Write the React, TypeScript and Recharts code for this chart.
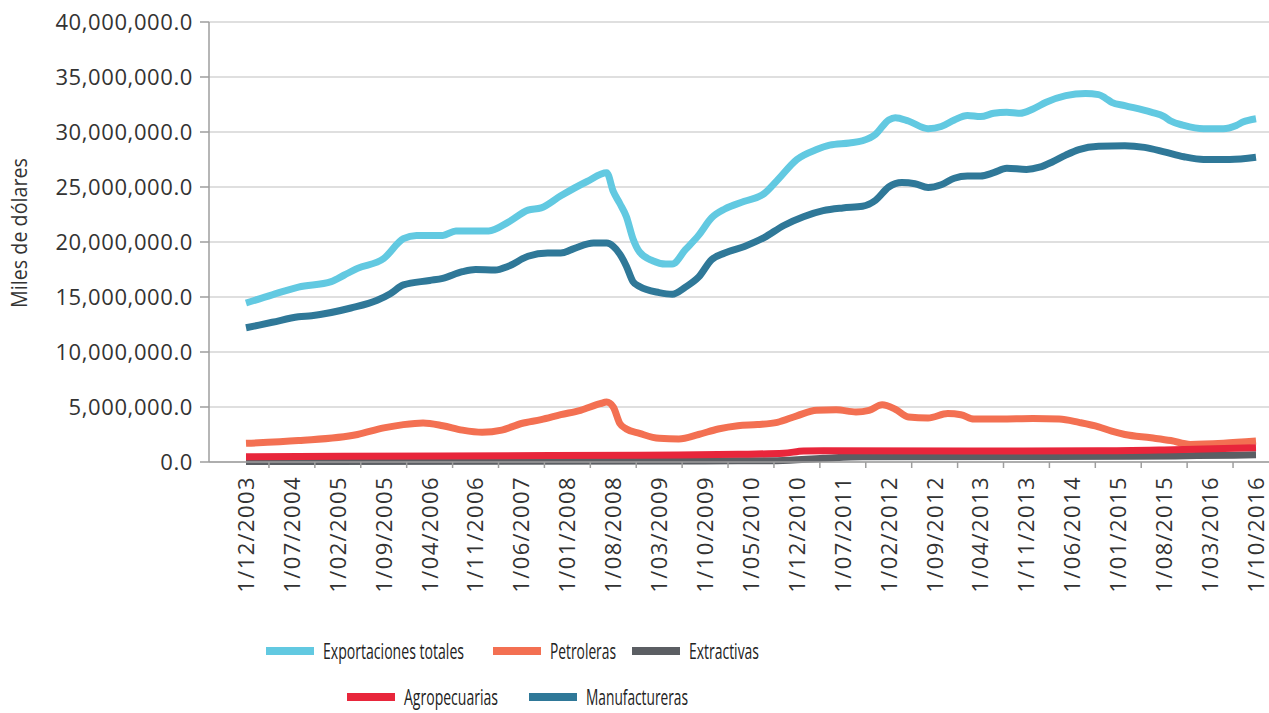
import { LineChart, Line, XAxis, YAxis, CartesianGrid } from "recharts";

// month index 0 = 1/12/2003, one step per month
const tickLabels = [
  "1/12/2003", "1/07/2004", "1/02/2005", "1/09/2005", "1/04/2006", "1/11/2006",
  "1/06/2007", "1/01/2008", "1/08/2008", "1/03/2009", "1/10/2009", "1/05/2010",
  "1/12/2010", "1/07/2011", "1/02/2012", "1/09/2012", "1/04/2013", "1/11/2013",
  "1/06/2014", "1/01/2015", "1/08/2015", "1/03/2016", "1/10/2016",
];
const tickMonths = tickLabels.map((_, i) => i * 7);
const lastMonth = tickMonths[tickMonths.length - 1];

const yTicks = [0, 5, 10, 15, 20, 25, 30, 35, 40]; // millions of "miles de dólares"

type Point = [number, number]; // [month index, value in millions]

const exportacionesTotales: Point[] = [
  [0, 14.45], [4, 15.2], [8, 15.9], [13, 16.4], [15, 17.0], [17, 17.6], [21, 18.5],
  [24, 20.3], [26, 20.6], [30, 20.6], [32, 21.0], [37, 21.0], [40, 21.8], [43, 22.9],
  [45, 23.1], [48, 24.2], [52, 25.5], [55, 26.3], [56, 24.6], [57, 23.5], [58, 22.3],
  [59, 20.3], [60, 19.1], [62, 18.3], [64, 18.0], [65, 18.0], [67, 19.3], [69, 20.6],
  [71, 22.2], [73, 23.0], [76, 23.7], [79, 24.4], [81, 25.6], [84, 27.5], [87, 28.4],
  [89, 28.8], [92, 29.0], [94, 29.2], [96, 29.8], [98, 31.1], [99, 31.3], [101, 31.0],
  [104, 30.3], [106, 30.5], [108, 31.1], [110, 31.5], [112, 31.4], [114, 31.7],
  [116, 31.8], [118, 31.7], [120, 32.1], [122, 32.7], [125, 33.3], [128, 33.5],
  [130, 33.4], [131, 33.1], [132, 32.7], [134, 32.4], [138, 31.8], [140, 31.4],
  [141, 31.0], [143, 30.6], [146, 30.3], [149, 30.3], [151, 30.6], [152, 30.9], [154, 31.2],
];

const petroleras: Point[] = [
  [0, 1.7], [8, 1.95], [17, 2.5], [21, 3.1], [24, 3.4], [27, 3.55], [30, 3.3], [33, 2.9],
  [36, 2.7], [39, 2.9], [42, 3.5], [45, 3.85], [48, 4.3], [51, 4.7], [54, 5.3], [55, 5.45],
  [56, 5.0], [57, 3.5], [58, 3.0], [60, 2.6], [63, 2.15], [66, 2.1], [69, 2.5], [72, 3.0],
  [75, 3.3], [78, 3.4], [81, 3.6], [84, 4.2], [87, 4.7], [90, 4.75], [93, 4.55], [95, 4.7],
  [97, 5.2], [99, 4.8], [101, 4.1], [104, 4.0], [107, 4.4], [109, 4.3], [111, 3.9],
  [115, 3.9], [120, 3.95], [124, 3.9], [127, 3.6], [130, 3.2], [132, 2.8], [134, 2.5],
  [138, 2.2], [141, 1.95], [144, 1.6], [149, 1.7], [154, 1.9],
];

const extractivas: Point[] = [
  [0, 0.05], [40, 0.07], [70, 0.1], [81, 0.12], [88, 0.33], [94, 0.48], [120, 0.5],
  [135, 0.52], [145, 0.58], [154, 0.65],
];

const agropecuarias: Point[] = [
  [0, 0.48], [30, 0.55], [60, 0.62], [75, 0.7], [82, 0.8], [85, 1.0], [88, 1.03],
  [110, 1.0], [130, 1.02], [140, 1.1], [154, 1.3],
];

const manufactureras: Point[] = [
  [0, 12.2], [4, 12.7], [8, 13.2], [10, 13.3], [16, 14.0], [20, 14.7], [22, 15.3],
  [24, 16.1], [28, 16.5], [30, 16.7], [33, 17.3], [35, 17.5], [38, 17.45], [40, 17.8],
  [43, 18.7], [46, 19.0], [48, 19.0], [50, 19.4], [53, 19.9], [55, 19.9], [56, 19.6],
  [57, 18.9], [58, 17.8], [59, 16.4], [60, 15.95], [63, 15.4], [65, 15.25], [67, 15.9],
  [69, 16.8], [71, 18.4], [73, 19.0], [76, 19.6], [79, 20.4], [82, 21.5], [85, 22.3],
  [88, 22.85], [91, 23.1], [94, 23.25], [96, 23.8], [98, 25.0], [100, 25.4], [102, 25.3],
  [104, 24.95], [106, 25.2], [108, 25.8], [110, 26.0], [112, 26.0], [114, 26.3],
  [116, 26.7], [119, 26.6], [121, 26.8], [123, 27.3], [125, 27.9], [127, 28.4],
  [130, 28.7], [134, 28.75], [137, 28.6], [140, 28.2], [143, 27.75], [146, 27.5],
  [150, 27.5], [154, 27.7],
];

const series = [
  { name: "Exportaciones totales", points: exportacionesTotales, color: "#62c9e1" },
  { name: "Petroleras", points: petroleras, color: "#f37052" },
  { name: "Extractivas", points: extractivas, color: "#5b5e63" },
  { name: "Agropecuarias", points: agropecuarias, color: "#e8263b" },
  { name: "Manufactureras", points: manufactureras, color: "#2f7898" },
];

// layout
const W = 1269;
const H = 713;
const PLOT_LEFT = 209;
const PLOT_TOP = 22;
const PLOT_BOTTOM = 462;
const PAD_L = 37;
const PAD_R = 13;
const MONTH_PX = (W - PLOT_LEFT - PAD_L - PAD_R) / lastMonth;
const FONT = "'Open Sans', 'DejaVu Sans', sans-serif";
const LEGEND_SX = 0.67; // legend font is a condensed face

const legendPos: Record<string, { x: number; y: number; w: number }> = {
  "Exportaciones totales": { x: 266, y: 652, w: 141 },
  Petroleras: { x: 493, y: 652, w: 66 },
  Extractivas: { x: 632, y: 652, w: 70 },
  Agropecuarias: { x: 347, y: 698, w: 94 },
  Manufactureras: { x: 529, y: 698, w: 102 },
};

const fmtY = (v: number) =>
  (v * 1e6).toLocaleString("en-US", { minimumFractionDigits: 1, maximumFractionDigits: 1 });

// eslint-disable-next-line @typescript-eslint/no-explicit-any
const XTick = ({ x, y, index }: any) => {
  const label = tickLabels[index];
  return (
    <g>
      {index < tickLabels.length - 1 && (
        <line
          x1={x + MONTH_PX * 3.5}
          x2={x + MONTH_PX * 3.5}
          y1={PLOT_BOTTOM}
          y2={PLOT_BOTTOM + 6}
          stroke="#9e9e9e"
          strokeWidth={1.5}
        />
      )}
      <text
        transform={`translate(${x},${y}) rotate(-90)`}
        textAnchor="end"
        dy="0.36em"
        fill="#333"
        fontSize={22}
        letterSpacing={1.4}
        fontFamily={FONT}
      >
        {label}
      </text>
    </g>
  );
};

export default function App() {
  return (
    <div style={{ position: "absolute", left: 0, top: 0, width: W, height: H, fontFamily: FONT, background: "#fff" }}>
      <LineChart width={W} height={H} margin={{ top: PLOT_TOP, right: 0, bottom: 0, left: 0 }}>
        <CartesianGrid vertical={false} stroke="#d4d4d4" strokeWidth={1.5} />
        <XAxis
          type="number"
          dataKey="m"
          domain={[0, lastMonth]}
          ticks={tickMonths}
          interval={0}
          padding={{ left: PAD_L, right: PAD_R }}
          height={H - PLOT_BOTTOM}
          axisLine={{ stroke: "#9e9e9e", strokeWidth: 1.5 }}
          tickLine={false}
          tickSize={6}
          tickMargin={8}
          tick={<XTick />}
          allowDuplicatedCategory={false}
        />
        <YAxis
          type="number"
          domain={[0, 40]}
          ticks={yTicks}
          width={PLOT_LEFT}
          axisLine={{ stroke: "#9e9e9e", strokeWidth: 1.5 }}
          tickLine={{ stroke: "#9e9e9e", strokeWidth: 1.5 }}
          tickSize={9}
          tickMargin={7}
          tick={{ fill: "#333", fontSize: 22, fontFamily: FONT, letterSpacing: 0.6 }}
          tickFormatter={fmtY}
        />
        {series.map((s) => (
          <Line
            key={s.name}
            data={s.points.map(([m, v]) => ({ m, v }))}
            dataKey="v"
            name={s.name}
            type="monotone"
            stroke={s.color}
            strokeWidth={7}
            dot={false}
            activeDot={false}
            isAnimationActive={false}
          />
        ))}
      </LineChart>
      <svg width={W} height={H} style={{ position: "absolute", left: 0, top: 0, pointerEvents: "none" }}>
        <text
          transform="translate(19,233) rotate(-90)"
          textAnchor="middle"
          dy="0.35em"
          fontSize={22}
          fill="#333"
          fontFamily={FONT}
          textLength={150}
          lengthAdjust="spacingAndGlyphs"
        >
          Miles de dólares
        </text>
        {series.map((s) => {
          const p = legendPos[s.name];
          return (
            <g key={s.name}>
              <line x1={p.x} x2={p.x + 48} y1={p.y - 1} y2={p.y - 1} stroke={s.color} strokeWidth={8} />
              <text
                transform={`translate(${p.x + 57},${p.y}) scale(${LEGEND_SX},1)`}
                dy="0.35em"
                fontSize={21}
                fill="#222"
                fontFamily={FONT}
                textLength={p.w / LEGEND_SX}
                lengthAdjust="spacingAndGlyphs"
              >
                {s.name}
              </text>
            </g>
          );
        })}
      </svg>
    </div>
  );
}
